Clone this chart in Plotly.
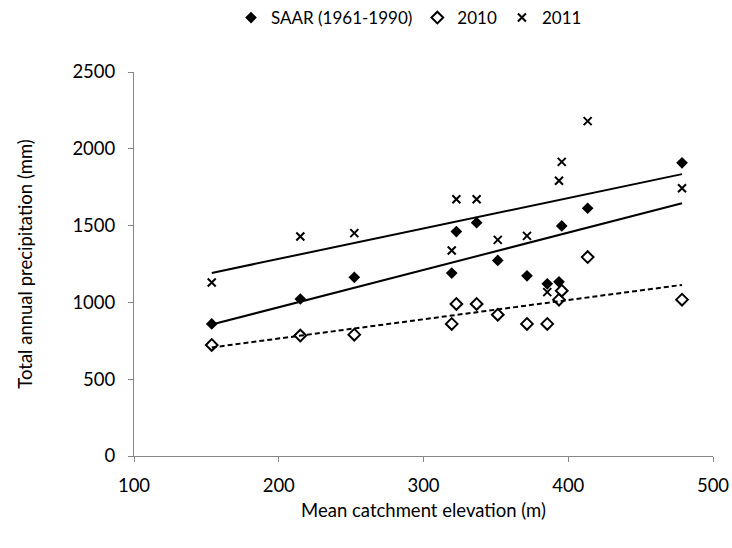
import numpy as np
import plotly.graph_objects as go

elevation = [153.7, 214.9, 252.2, 319.5, 322.7, 336.7, 351.3, 371.5, 385.5, 393.6, 395.5, 413.4, 478.6]
saar = [860, 1022, 1163, 1191, 1461, 1519, 1273, 1173, 1121, 1134, 1498, 1613, 1909]
y2010 = [723, 784, 790, 860, 990, 990, 920, 860, 860, 1018, 1076, 1295, 1018]
y2011 = [1130, 1429, 1451, 1338, 1671, 1671, 1407, 1433, 1067, 1792, 1915, 2180, 1743]

FONT = "Lato"
fig = go.Figure()

series = [
    ("SAAR (1961-1990)", saar, dict(symbol="diamond", size=9, color="black"), "solid"),
    ("2010", y2010, dict(symbol="diamond-open", size=9, color="black", line=dict(width=2, color="black")), "5px,3px"),
    ("2011", y2011, dict(symbol="x-thin-open", size=8, color="black", line=dict(width=2, color="black")), "solid"),
]

xs = np.array(elevation)
xline = np.array([xs.min(), xs.max()])
for name, vals, marker, dash in series:
    fig.add_trace(go.Scatter(x=elevation, y=vals, mode="markers", name=name, marker=marker))
for name, vals, marker, dash in series:
    m, b = np.polyfit(xs, np.array(vals, dtype=float), 1)
    fig.add_trace(go.Scatter(x=xline, y=m * xline + b, mode="lines", showlegend=False,
                             line=dict(color="black", width=2, dash=dash), hoverinfo="skip"))

axis_common = dict(showline=True, linecolor="#868686", linewidth=1, ticks="outside",
                   tickcolor="#868686", ticklen=5, showgrid=False, zeroline=False,
                   tickfont=dict(family=FONT, size=18.5, color="black"))

fig.update_layout(
    width=732, height=548,
    margin=dict(l=134, r=19, t=72, b=92),
    plot_bgcolor="white", paper_bgcolor="white",
    font=dict(family=FONT, size=18.5, color="black"),
    xaxis=dict(range=[100, 500], dtick=100, ticklabelstandoff=8, automargin=False, **axis_common,
               title=dict(text="Mean catchment elevation (m)", standoff=8,
                          font=dict(family=FONT, size=18.5))),
    yaxis=dict(range=[0, 2500], dtick=500, ticklabelstandoff=9, automargin=False, **axis_common,
               title=dict(text="Total annual precipitation (mm)", standoff=34,
                          font=dict(family=FONT, size=18.5))),
    legend=dict(orientation="h", x=0.475, xanchor="center", y=1.0, yanchor="top",
                yref="container", font=dict(family=FONT, size=17), itemwidth=30,
                traceorder="normal"),
)

fig.write_html("out.html")
